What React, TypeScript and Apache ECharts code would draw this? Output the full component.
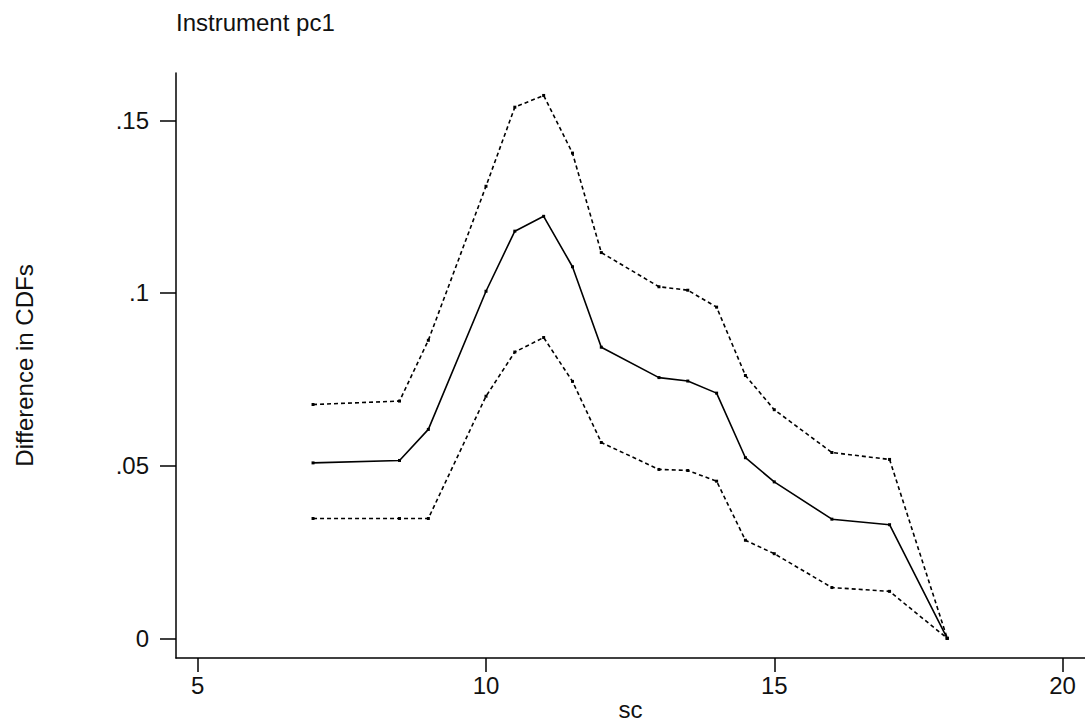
import React, { useEffect, useRef } from "react";
import * as echarts from "echarts";

const sc = [7, 8.5, 9, 10, 10.5, 11, 11.5, 12, 13, 13.5, 14, 14.5, 15, 16, 17, 18];
const diff = [0.0508, 0.0515, 0.0605, 0.1005, 0.1179, 0.1222, 0.1076, 0.0843, 0.0755, 0.0745, 0.071, 0.0523, 0.0453, 0.0345, 0.0329, 0];
const upper = [0.0677, 0.0687, 0.0863, 0.1309, 0.1538, 0.1572, 0.1405, 0.1117, 0.1018, 0.1008, 0.0959, 0.0761, 0.0662, 0.0538, 0.0518, 0];
const lower = [0.0347, 0.0347, 0.0347, 0.0701, 0.0829, 0.0871, 0.0744, 0.0567, 0.0489, 0.0486, 0.0455, 0.0284, 0.0245, 0.0147, 0.0136, 0];
const xTicks = [5, 10, 15, 20];
const yTicks = [0, 0.05, 0.1, 0.15];
const yTickLabels = ["0", ".05", ".1", ".15"];

const pairs = (ys: number[]) => sc.map((x, i) => [x, ys[i]]);

export default function App() {
  const ref = useRef<HTMLDivElement>(null);
  useEffect(() => {
    const chart = echarts.init(ref.current!, undefined, { renderer: "svg" });
    const font = "Arial, 'Liberation Sans', sans-serif";
    const fs = 24;
    const lineSeries = (name: string, ys: number[], dashed: boolean) => ({
      name,
      type: "line",
      data: pairs(ys),
      symbol: "rect",
      symbolSize: 3,
      showSymbol: true,
      itemStyle: { color: "#000" },
      lineStyle: { color: "#000", width: 1.6, type: dashed ? [4, 3] : "solid" },
      emphasis: { disabled: true },
    });
    chart.setOption({
      animation: false,
      backgroundColor: "#fff",
      title: {
        text: "Instrument pc1",
        left: 171,
        top: 5,
        textStyle: { fontFamily: font, fontSize: fs, fontWeight: "normal", color: "#111" },
      },
      grid: { left: 176, right: 0, top: 73, bottom: 66, containLabel: false, outerBoundsMode: "none" },
      xAxis: {
        type: "value",
        min: 4.623,
        max: 20.39,
        name: "sc",
        nameLocation: "middle",
        nameGap: 39,
        nameMoveOverlap: false,
        nameTextStyle: { fontFamily: font, fontSize: fs, color: "#111" },
        axisLine: { show: true, onZero: false, lineStyle: { color: "#000", width: 1.5 } },
        axisTick: { show: true, length: 14, customValues: xTicks, lineStyle: { color: "#000", width: 1.5 } },
        axisLabel: { customValues: xTicks, fontFamily: font, fontSize: fs, color: "#111", margin: 15 },
        splitLine: { show: false },
      },
      yAxis: {
        type: "value",
        min: -0.0057,
        max: 0.1637,
        name: "Difference in CDFs",
        nameLocation: "middle",
        nameGap: 140,
        nameMoveOverlap: false,
        nameTextStyle: { fontFamily: font, fontSize: fs, color: "#111" },
        axisLine: { show: true, onZero: false, lineStyle: { color: "#000", width: 1.5 } },
        axisTick: { show: true, length: 16, customValues: yTicks, lineStyle: { color: "#000", width: 1.5 } },
        axisLabel: {
          customValues: yTicks,
          fontFamily: font,
          fontSize: fs,
          color: "#111",
          margin: 27,
          formatter: (v: number) => {
            const i = yTicks.findIndex((t) => Math.abs(t - v) < 1e-9);
            return i >= 0 ? yTickLabels[i] : "";
          },
        },
        splitLine: { show: false },
      },
      series: [
        lineSeries("upper", upper, true),
        lineSeries("lower", lower, true),
        lineSeries("diff", diff, false),
      ],
    });
    return () => chart.dispose();
  }, []);
  return <div ref={ref} style={{ width: 1085, height: 724, position: "absolute", left: 0, top: 0 }} />;
}
